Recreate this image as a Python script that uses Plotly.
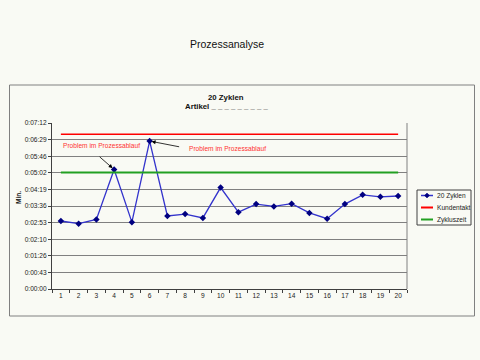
import plotly.graph_objects as go

# ---------------- data ----------------
cycles = [str(i) for i in range(1, 21)]
zyklen_seconds = [177, 170, 181, 311, 174, 385, 190, 195, 185, 264,
                  200, 221, 215, 222, 198, 183, 221, 245, 240, 242]
kundentakt_seconds = [403, 403, 403, 403, 403, 403, 403, 403, 403, 403,
                      403, 403, 403, 403, 403, 403, 403, 403, 403, 403]
zykluszeit_seconds = [303, 303, 303, 303, 303, 303, 303, 303, 303, 303,
                      303, 303, 303, 303, 303, 303, 303, 303, 303, 303]
y_tick_values = [0, 43.2, 86.4, 129.6, 172.8, 216, 259.2, 302.4, 345.6, 388.8, 432]
y_tick_labels = ["0:00:00", "0:00:43", "0:01:26", "0:02:10", "0:02:53", "0:03:36",
                 "0:04:19", "0:05:02", "0:05:46", "0:06:29", "0:07:12"]
series_names = ["20 Zyklen", "Kundentakt", "Zykluszeit"]
problem_label = "Problem im Prozessablauf"
problem_cycles = ["4", "6"]

# ---------------- styling ----------------
BG = "#f9faf4"
W, H = 480, 360
L, R, T, B = 52, 73, 123, 71
PW, PH = W - L - R, H - T - B
FONT = "Liberation Sans, Arial, sans-serif"


def px(x):
    return (x - L) / PW


def py(y):
    return (H - B - y) / PH


colors = ["#3333cc", "#ff0000", "#22a022"]

fig = go.Figure()
fig.add_trace(go.Scatter(x=cycles, y=zyklen_seconds, mode="lines+markers",
                         name=series_names[0],
                         line=dict(color=colors[0], width=1.3),
                         marker=dict(symbol="diamond", size=5, color="#000080")))
fig.add_trace(go.Scatter(x=cycles, y=kundentakt_seconds, mode="lines",
                         name=series_names[1], line=dict(color=colors[1], width=1.5)))
fig.add_trace(go.Scatter(x=cycles, y=zykluszeit_seconds, mode="lines",
                         name=series_names[2], line=dict(color=colors[2], width=2)))

shapes = []
# outer chart-area border
shapes.append(dict(type="rect", xref="paper", yref="paper",
                   x0=px(9.5), x1=px(474.5), y0=py(316), y1=py(85),
                   line=dict(color="#808080", width=1), layer="below"))
# right border of plot area
shapes.append(dict(type="line", xref="paper", yref="paper", x0=1, x1=1, y0=0, y1=1,
                   line=dict(color="#808080", width=1)))
# manual legend box
shapes.append(dict(type="rect", xref="paper", yref="paper",
                   x0=px(417), x1=px(471), y0=py(225), y1=py(190),
                   line=dict(color="#404040", width=1)))

annotations = []
legend_y = [195.5, 207.5, 219.5]
for i, name in enumerate(series_names):
    shapes.append(dict(type="line", xref="paper", yref="paper",
                       x0=px(421), x1=px(433), y0=py(legend_y[i]), y1=py(legend_y[i]),
                       line=dict(color=colors[i], width=2 if i else 1.5)))
    annotations.append(dict(text=name, xref="paper", yref="paper",
                            x=px(435), y=py(legend_y[i]), xanchor="left", yanchor="middle",
                            showarrow=False, font=dict(family=FONT, size=6.6, color="#222")))
# diamond marker in legend
cx, cy = 427, legend_y[0]
shapes.append(dict(type="path", xref="paper", yref="paper",
                   path=f"M{px(cx)},{py(cy-2.5)} L{px(cx+2.5)},{py(cy)} L{px(cx)},{py(cy+2.5)} L{px(cx-2.5)},{py(cy)} Z",
                   fillcolor="#000080", line=dict(color="#000080", width=0.5)))

# titles
annotations.append(dict(text="Prozessanalyse", xref="paper", yref="paper",
                        x=px(227), y=py(44), xanchor="center", yanchor="middle",
                        showarrow=False, font=dict(family=FONT, size=10.5, color="#111")))
annotations.append(dict(text="<b>20 Zyklen</b>", xref="paper", yref="paper",
                        x=px(225.5), y=py(97.5), xanchor="center", yanchor="middle",
                        showarrow=False, font=dict(family=FONT, size=7.8, color="#111")))
annotations.append(dict(text="<b>Artikel _ _ _ _ _ _ _ _ _</b>", xref="paper", yref="paper",
                        x=px(183), y=py(106), xanchor="left", yanchor="middle",
                        showarrow=False, font=dict(family=FONT, size=7.8, color="#111")))
annotations.append(dict(text="<b>Min.</b>", xref="paper", yref="paper",
                        x=px(18), y=py(198), xanchor="center", yanchor="middle",
                        textangle=-90, showarrow=False,
                        font=dict(family=FONT, size=6.6, color="#111")))

# problem labels + arrows
i4 = cycles.index(problem_cycles[0])
i6 = cycles.index(problem_cycles[1])
annotations.append(dict(text=problem_label, xref="paper", yref="paper",
                        x=px(101), y=py(145), xanchor="center", yanchor="middle",
                        showarrow=False, font=dict(family=FONT, size=6.6, color="#ff3333")))
annotations.append(dict(text="", x=i4, y=zyklen_seconds[i4], xref="x", yref="y",
                        ax=-16, ay=-14, showarrow=True, arrowhead=2, arrowsize=1,
                        arrowwidth=0.8, arrowcolor="#000", standoff=2))
annotations.append(dict(text=problem_label, xref="paper", yref="paper",
                        x=px(227), y=py(148), xanchor="center", yanchor="middle",
                        showarrow=False, font=dict(family=FONT, size=6.6, color="#ff3333")))
annotations.append(dict(text="", x=i6, y=zyklen_seconds[i6], xref="x", yref="y",
                        ax=31, ay=6, showarrow=True, arrowhead=2, arrowsize=1,
                        arrowwidth=0.8, arrowcolor="#000", standoff=2))

fig.update_layout(
    width=W, height=H,
    margin=dict(l=L, r=R, t=T, b=B),
    paper_bgcolor=BG, plot_bgcolor=BG,
    showlegend=False,
    shapes=shapes, annotations=annotations,
    font=dict(family=FONT, size=6.6, color="#222"),
    xaxis=dict(type="category", categoryorder="array", categoryarray=cycles,
               range=[-0.5, 19.5], tickson="boundaries", ticks="outside", ticklen=3,
               tickcolor="#404040", showgrid=False, showline=True, linecolor="#404040",
               linewidth=1, tickfont=dict(family=FONT, size=6.6, color="#222")),
    yaxis=dict(range=[0, 432], tickvals=y_tick_values, ticktext=y_tick_labels,
               ticks="outside", ticklen=3, tickcolor="#404040", showgrid=True,
               gridcolor="#808080", gridwidth=1, showline=True, linecolor="#404040",
               linewidth=1, zeroline=False,
               tickfont=dict(family=FONT, size=6.6, color="#222")),
)

fig.write_html("out.html")
